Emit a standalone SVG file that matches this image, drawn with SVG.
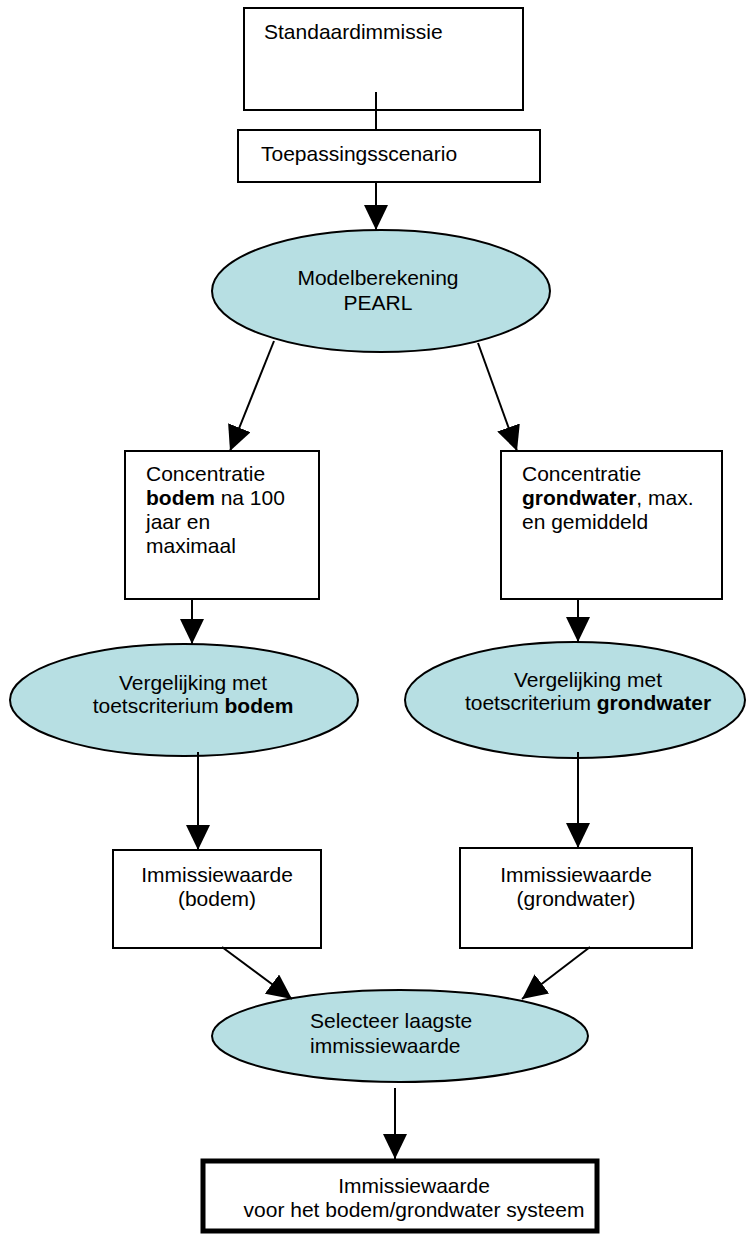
<svg xmlns="http://www.w3.org/2000/svg" width="746" height="1236" viewBox="0 0 746 1236">
<style>
.box{fill:#fff;stroke:#000;stroke-width:2}
.ell{fill:#B7DFE3;stroke:#000;stroke-width:2}
.t{font-family:"Liberation Sans",Arial,sans-serif;font-size:21px;fill:#000}
.c{text-anchor:middle}
.b{font-weight:bold}
.ln{stroke:#000;stroke-width:2;fill:none}
</style>
<defs>
<marker id="ah" markerUnits="userSpaceOnUse" markerWidth="26" markerHeight="24" refX="25" refY="12" orient="auto">
<path d="M0,0 L25,12 L0,24 z" fill="#000"/>
</marker>
</defs>
<rect width="746" height="1236" fill="#fff"/>
<g id="n1"><rect class="box" x="244" y="8" width="279" height="102"/><text class="t" x="264" y="39">Standaardimmissie</text></g>
<g id="n2"><rect class="box" x="238" y="130" width="302" height="52"/><text class="t" x="261" y="161">Toepassingsscenario</text></g>
<g id="n3"><ellipse class="ell" cx="381" cy="291" rx="169" ry="61"/><text class="t c" x="378" y="285">Modelberekening</text><text class="t c" x="378" y="310">PEARL</text></g>
<g id="n4"><rect class="box" x="125" y="451" width="194" height="148"/><text class="t" x="146" y="481">Concentratie</text><text class="t" x="146" y="505"><tspan class="b">bodem</tspan> na 100</text><text class="t" x="146" y="529">jaar en</text><text class="t" x="146" y="553">maximaal</text></g>
<g id="n5"><rect class="box" x="501" y="451" width="221" height="148"/><text class="t" x="522" y="481">Concentratie</text><text class="t" x="522" y="505"><tspan class="b">grondwater</tspan>, max.</text><text class="t" x="522" y="529">en gemiddeld</text></g>
<g id="n6"><ellipse class="ell" cx="184" cy="700" rx="174" ry="56"/><text class="t c" x="193" y="690">Vergelijking met</text><text class="t c" x="193" y="713">toetscriterium <tspan class="b">bodem</tspan></text></g>
<g id="n7"><ellipse class="ell" cx="575" cy="700" rx="170" ry="58"/><text class="t c" x="588" y="687">Vergelijking met</text><text class="t c" x="588" y="710">toetscriterium <tspan class="b">grondwater</tspan></text></g>
<g id="n8"><rect class="box" x="113" y="850" width="208" height="98"/><text class="t c" x="217" y="882">Immissiewaarde</text><text class="t c" x="217" y="906">(bodem)</text></g>
<g id="n9"><rect class="box" x="460" y="848" width="232" height="100"/><text class="t c" x="576" y="882">Immissiewaarde</text><text class="t c" x="576" y="906">(grondwater)</text></g>
<g id="n10"><ellipse class="ell" cx="400" cy="1036" rx="188" ry="46"/><text class="t" x="310" y="1028">Selecteer laagste</text><text class="t" x="310" y="1053">immissiewaarde</text></g>
<g id="n11"><rect x="203" y="1161" width="394" height="70" fill="#fff" stroke="#000" stroke-width="5"/><text class="t c" x="414" y="1193">Immissiewaarde</text><text class="t c" x="414" y="1217">voor het bodem/grondwater systeem</text></g>
<g id="connectors">
<line class="ln" x1="376" y1="92" x2="376" y2="130"/>
<line class="ln" x1="376" y1="182" x2="376" y2="230" marker-end="url(#ah)"/>
<line class="ln" x1="274" y1="341" x2="230" y2="451" marker-end="url(#ah)"/>
<line class="ln" x1="478" y1="343" x2="517" y2="451" marker-end="url(#ah)"/>
<line class="ln" x1="192" y1="599" x2="192" y2="644" marker-end="url(#ah)"/>
<line class="ln" x1="578" y1="599" x2="578" y2="642" marker-end="url(#ah)"/>
<line class="ln" x1="198" y1="752" x2="198" y2="850" marker-end="url(#ah)"/>
<line class="ln" x1="578" y1="752" x2="578" y2="848" marker-end="url(#ah)"/>
<line class="ln" x1="222" y1="947" x2="292" y2="999" marker-end="url(#ah)"/>
<line class="ln" x1="590" y1="947" x2="522" y2="999" marker-end="url(#ah)"/>
<line class="ln" x1="395" y1="1088" x2="395" y2="1159" marker-end="url(#ah)"/>
</g>
</svg>
